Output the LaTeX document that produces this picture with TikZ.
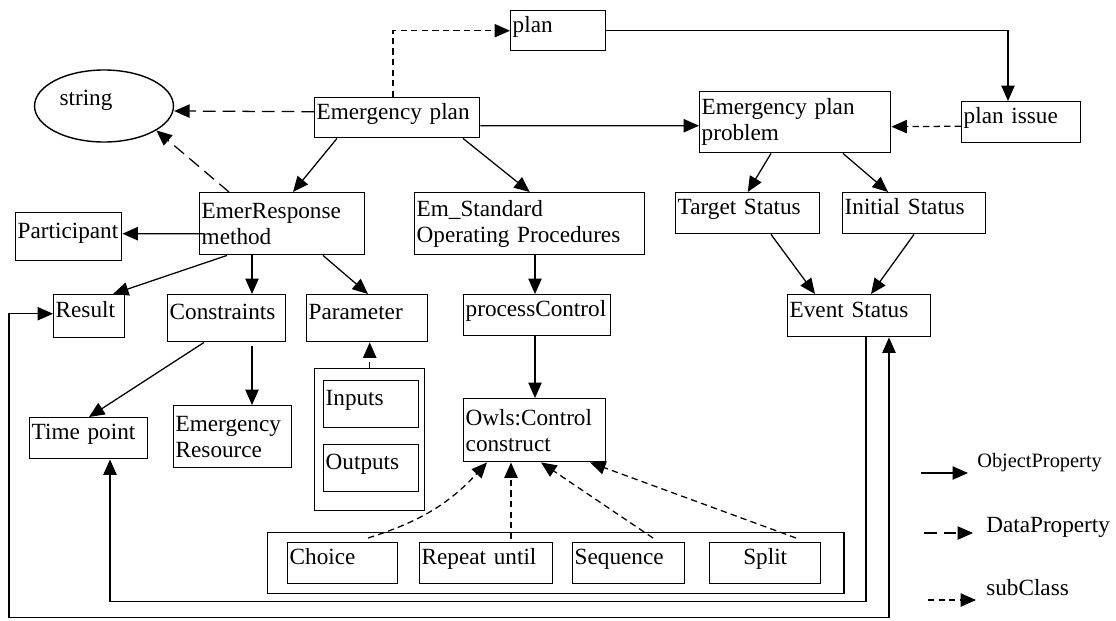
\documentclass[tikz,border=0pt]{standalone}
\usepackage{fontspec}
\setmainfont{Liberation Serif}[WordSpace=0.7]
\usetikzlibrary{arrows.meta,calc,shapes.geometric}

\tikzset{
  >={Triangle[length=11pt,width=9.5pt]},
  txt/.style={font=\fontsize{16.5}{18.5}\selectfont},
  cls/.style={draw, line width=1pt, anchor=north west, align=left, txt,
    inner xsep=0.05cm, inner ysep=1pt},
  one/.style={cls, text height=11.5pt, text depth=9pt},
  grp/.style={draw, line width=1pt, anchor=north west, inner sep=0pt},
  obj/.style={line width=0.9pt, ->},
  data/.style={obj, dash pattern=on 9pt off 5pt},
  sub/.style={obj, dash pattern=on 4.5pt off 3pt},
  leg/.style={anchor=west, inner sep=0pt}
}

\begin{document}
\begin{tikzpicture}[x=0.025cm, y=-0.025cm]
  \useasboundingbox (0,0) rectangle (1116,620);

  % classes
  \node[one, text width=2.275cm, minimum height=1cm] (plan) at (510,10) {plan};
  \node[draw, ellipse, line width=1pt, minimum width=3.3cm, minimum height=1.8cm,
    txt, text depth=12pt] (str) at (104,106) {string\hspace*{0.9cm}};
  \node[one, text width=4.025cm, minimum height=1cm] (ep) at (314,97) {Emergency plan};
  \node[cls, text width=4.675cm, minimum height=1.525cm] (epp) at (699,91) {Emergency plan\\problem};
  \node[one, text width=2.875cm, minimum height=1.025cm] (pi) at (961,101) {plan issue};
  \node[cls, text width=4.025cm, minimum height=1.55cm] (erm) at (199,192) {EmerResponse\\method};
  \node[cls, text width=5.65cm, minimum height=1.55cm] (sop) at (414,192) {Em\_Standard\\Operating Procedures};
  \node[one, text width=3.5cm, minimum height=1.025cm] (tgt) at (675,192) {Target Status};
  \node[one, text width=3.475cm, minimum height=1.025cm] (ini) at (842,192) {Initial Status};
  \node[one, text width=2.55cm, minimum height=1.2cm] (part) at (15,212) {Participant};
  \node[one, text width=1.675cm, minimum height=1.075cm] (result) at (53,294) {Result};
  \node[one, text width=2.85cm, minimum height=1.175cm] (cons) at (167,294) {Constraints};
  \node[one, text width=2.925cm, minimum height=1.175cm] (param) at (306,294) {Parameter};
  \node[one, text width=3.575cm, minimum height=1.025cm] (pc) at (463,294) {processControl};
  \node[one, text width=3.475cm, minimum height=1.05cm] (ev) at (787,294) {Event Status};
  \node[one, text width=2.85cm, minimum height=1.025cm] (tp) at (29,417) {Time point};
  \node[cls, text width=2.85cm, minimum height=1.55cm] (eres) at (173,405) {Emergency\\Resource};
  \node[grp, minimum width=2.75cm, minimum height=3.55cm] (io) at (314,368) {};
  \node[one, text width=2.275cm, minimum height=1.175cm] (inp) at (323,380) {Inputs};
  \node[one, text width=2.275cm, minimum height=1.175cm] (outp) at (323,444) {Outputs};
  \node[cls, text width=3.45cm, minimum height=1.575cm] (owls) at (463,398) {Owls:Control\\construct};
  \node[grp, minimum width=14.4cm, minimum height=1.525cm] (ctl) at (267,532) {};
  \node[one, text width=2.65cm, minimum height=1.025cm] (choice) at (287,542) {Choice};
  \node[one, text width=3.225cm, minimum height=1.025cm] (rep) at (419,542) {Repeat until};
  \node[one, text width=2.7cm, minimum height=1.025cm] (seq) at (572,542) {Sequence};
  \node[one, text width=2.675cm, minimum height=1.025cm, align=center] (split) at (709,542) {Split};

  % object properties
  \draw[obj] ($(ep.east)+(0,8)$) -- ($(epp.west)+(0,3.5)$);
  \draw[obj] ($(ep.south west)+(23,0)$) -- ($(erm.north west)+(94,0)$);
  \draw[obj] ($(ep.south west)+(149,0)$) -- (sop.north);
  \draw[obj] (plan.east) -| ($(pi.north west)+(47,0)$);
  \draw[obj] ($(epp.south west)+(72,0)$) -- (tgt.north);
  \draw[obj] ($(epp.south west)+(144,0)$) -- ($(ini.north west)+(46,0)$);
  \draw[obj] ($(tgt.south west)+(96,0)$) -- ($(ev.north west)+(28,0)$);
  \draw[obj] ($(ini.south west)+(72,0)$) -- ($(ev.north west)+(84,0)$);
  \draw[obj] ($(erm.west)+(5,10)$) -- ($(part.east)+(0,-3)$);
  \draw[obj] ($(erm.south west)+(28,0)$) -- ($(result.north west)+(60,0)$);
  \draw[obj] ($(erm.south west)+(53,0)$) -- ($(cons.north west)+(85,0)$);
  \draw[obj] ($(erm.south west)+(124,0)$) -- ($(param.north west)+(62,0)$);
  \draw[obj] ($(sop.south west)+(121,0)$) -- ($(pc.north west)+(72,0)$);
  \draw[obj] ($(cons.south west)+(37,0)$) -- ($(tp.north west)+(60,0)$);
  \draw[obj] ($(cons.south west)+(85,4)$) -- ($(eres.north west)+(79,0)$);
  \draw[obj] ($(pc.south west)+(72,0)$) -- ($(owls.north west)+(72,0)$);
  \draw[obj] ($(ev.south west)+(79,0)$) -- ++(0,264) -| ($(tp.south west)+(81,0)$);
  \draw[obj, <->] ($(result.west)+(0,-2.5)$) -- ++(-44,0) -- ++(0,304) -| ($(ev.south west)+(102,0)$);

  % data properties
  \draw[data] ($(ep.west)+(0,-6)$) -- ($(str.east)+(0,5)$);
  \draw[data] ($(erm.north west)+(30,0)$) -- (str.-25);

  % subclasses
  \draw[sub] ($(ep.north west)+(79,0)$) |- (plan.west);
  \draw[sub] ($(pi.west)+(0,4)$) -- ($(epp.east)+(0,4.5)$);
  \draw[sub] (io.north) -- (io.north |- param.south);
  \draw[sub] ($(choice.north west)+(81,-4)$) to[bend right=15] ($(owls.south west)+(24,0)$);
  \draw[sub] ($(rep.north west)+(92,-3)$) -- ($(owls.south west)+(48,0)$);
  \draw[sub] ($(seq.north west)+(81,-4)$) -- ($(owls.south west)+(78,0)$);
  \draw[sub] ($(split.north west)+(87,-4)$) -- ($(owls.south west)+(127,0)$);

  % legend
  \node[leg, font=\fontsize{14.5}{16}\selectfont] (lobj) at (977,463) {ObjectProperty};
  \node[leg, txt] (ldat) at (986,527) {DataProperty};
  \node[leg, txt] (lsub) at (986,588) {subClass};
  \draw[obj] ($(lobj.west)+(-56,10)$) -- ($(lobj.west)+(-9,10)$);
  \draw[data] ($(ldat.west)+(-62,6)$) -- ($(ldat.west)+(-13,6)$);
  \draw[sub] ($(lsub.west)+(-58,12)$) -- ($(lsub.west)+(-10,12)$);
\end{tikzpicture}
\end{document}
